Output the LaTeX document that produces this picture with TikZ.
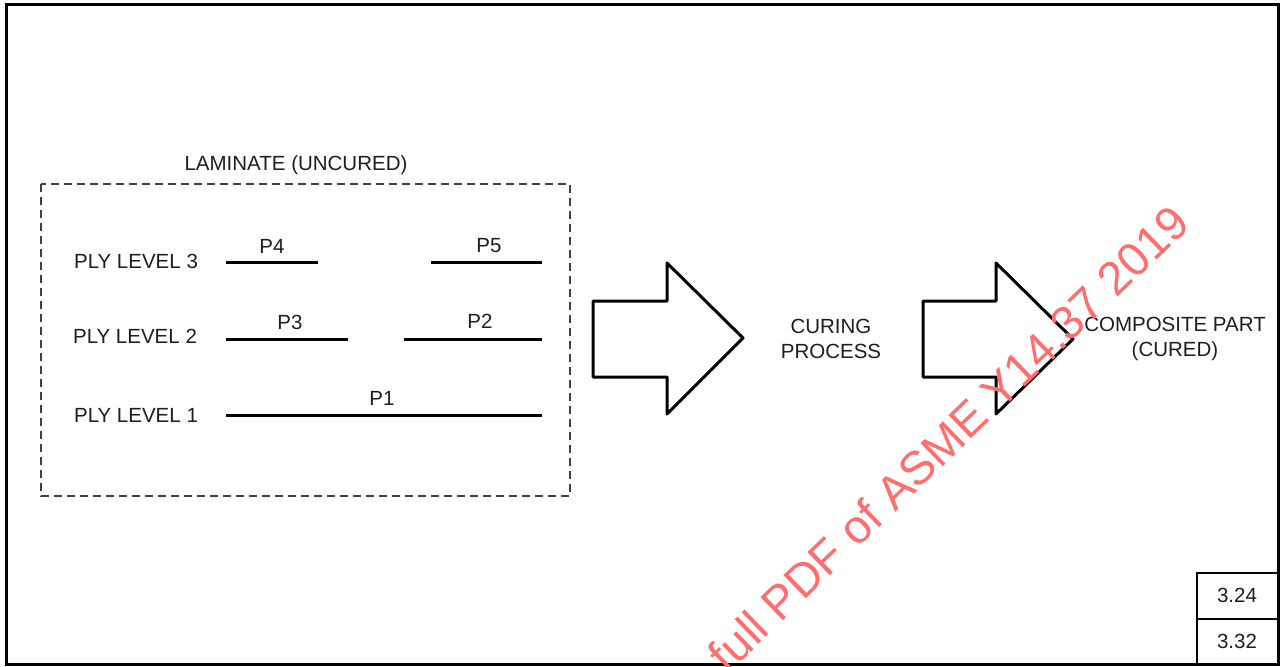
\documentclass[tikz,border=0pt]{standalone}
\usepackage{fontspec}
\setmainfont{Liberation Sans}
\definecolor{ink}{HTML}{1E1E1E}
\definecolor{wm}{RGB}{255,110,110}
\begin{document}
\begin{tikzpicture}[x=1pt,y=-1pt,
  lbl/.style={font=\fontsize{20.5}{25}\selectfont, text=ink, inner sep=0pt, align=center},
  ply/.style={line width=3pt, draw=black},
  bigarrow/.style={line width=3pt, draw=black, line join=round},
  frame/.style={line width=3pt, draw=black},
  cell/.style={line width=1.6pt, draw=black},
  dashbox/.style={line width=2pt, draw=black!75, dash pattern=on 8pt off 5pt}]
\useasboundingbox (0,0) rectangle (1281,666);
% outer frame
\draw[frame] (6,5) rectangle (1278,664);
% table cells
\draw[cell] (1197,666) -- (1197,572.7) -- (1278,572.7);
\draw[cell] (1197,619) -- (1278,619);
\node[lbl] (c1) at (1237,595) {3.24};
\node[lbl] (c2) at (1237,641) {3.32};
% laminate box
\node[lbl] (lam) at (296,165) {LAMINATE (UNCURED)};
\draw[dashbox] (41,184) rectangle (570,496);
% ply levels
\node[lbl] (L3) at (136,261) {PLY LEVEL 3};
\node[lbl] (L2) at (135,336) {PLY LEVEL 2};
\node[lbl] (L1) at (136,415) {PLY LEVEL 1};
\coordinate (p4a) at (226,262); \coordinate (p4b) at (318,262);
\coordinate (p5a) at (431,262); \coordinate (p5b) at (542,262);
\coordinate (p3a) at (226,339); \coordinate (p3b) at (348,339);
\coordinate (p2a) at (404,339); \coordinate (p2b) at (542,339);
\coordinate (p1a) at (226,415); \coordinate (p1b) at (542,415);
\draw[ply] (p4a) -- (p4b);
\draw[ply] (p5a) -- (p5b);
\draw[ply] (p3a) -- (p3b);
\draw[ply] (p2a) -- (p2b);
\draw[ply] (p1a) -- (p1b);
\node[lbl] (P4) at (272,246) {P4};
\node[lbl] (P5) at (489,246) {P5};
\node[lbl] (P3) at (290,322) {P3};
\node[lbl] (P2) at (480,321) {P2};
\node[lbl] (P1) at (382,398) {P1};
% arrows
\draw[bigarrow] (593,301) -- (667,301) -- (667,263) -- (743,338) -- (667,414) -- (667,377) -- (593,377) -- cycle;
\draw[bigarrow] (923,301) -- (996,301) -- (996,263) -- (1073,339) -- (996,414) -- (996,377) -- (923,377) -- cycle;
\node[lbl] (cure) at (831,338.5) {CURING\\PROCESS};
\node[lbl] (comp) at (1175,339) {COMPOSITE PART\\(CURED)};
% watermark
\node[font=\fontsize{47}{50}\selectfont, text=wm, inner sep=0pt, rotate=44, anchor=base] (wmark) at (960,450) {full PDF of ASME Y14.37 2019};
\end{tikzpicture}
\end{document}
